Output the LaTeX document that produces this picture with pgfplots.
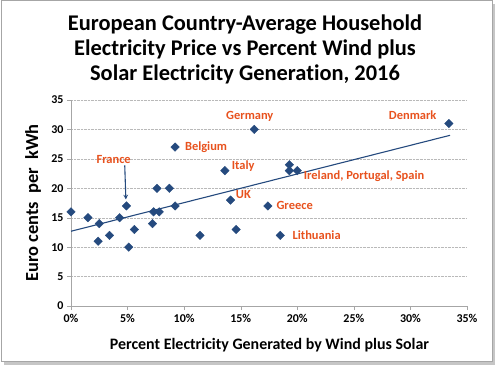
\documentclass[border=0pt]{standalone}
\usepackage{fontspec}
\setmainfont{Carlito}[RawFeature={-liga;-dlig;-calt;-clig}]
\usepackage{pgfplots}
\pgfplotsset{compat=1.18}
\definecolor{mk}{RGB}{37,74,126}
\definecolor{lbl}{RGB}{232,82,30}
\begin{document}
\begin{tikzpicture}
\useasboundingbox (0bp,0bp) rectangle (495bp,367bp);
\fill[gray!45] (4bp,2bp) rectangle (495bp,363bp);
\draw[gray!70, fill=white, line width=1bp] (1bp,5bp) rectangle (492bp,366bp);
\node[align=center, font=\bfseries\fontsize{22.5}{25}\selectfont] at (245bp,318bp)
  {European Country-Average Household\\Electricity Price vs Percent Wind plus\\Solar Electricity Generation, 2016};
\node[rotate=90, font=\bfseries\fontsize{18.5}{21}\selectfont] at (33bp,164bp) {Euro cents\ \ per\ \ kWh};
\node[font=\bfseries\fontsize{16}{18}\selectfont] at (269.5bp,22bp) {Percent Electricity Generated by Wind plus Solar};
\begin{axis}[
  at={(71bp,61bp)}, anchor=south west,
  scale only axis, width=396bp, height=206bp,
  xmin=0, xmax=35, ymin=0, ymax=35,
  xtick={0,5,...,35},
  xticklabels={0\%,5\%,10\%,15\%,20\%,25\%,30\%,35\%},
  ytick={0,5,...,35},
  axis x line*=bottom, axis y line*=left,
  axis line style={-, gray!70},
  tick align=outside,
  major tick length=4bp,
  tick style={gray!70},
  ymajorgrids,
  grid style={densely dotted, gray!55},
  ticklabel style={font=\bfseries\fontsize{12}{14}\selectfont},
  xticklabel style={yshift=-1bp},
  /pgf/number format/assume math mode=true,
  clip=false,
]
\addplot[mk, line width=1.1bp] coordinates {(0,12.7) (33.5,29.0)};
\addplot[only marks, mark=square*, mark size=3bp, mark options={mk, fill=mk, rotate=45}]
coordinates {
(0,16) (1.5,15) (2.5,14) (2.4,11) (3.4,12) (4.3,15) (4.9,17) (5.1,10) (5.6,13)
(7.2,14) (7.3,16) (7.6,20) (7.8,16) (8.7,20) (9.2,17) (9.2,27) (11.4,12)
(13.6,23) (14.1,18) (14.6,13) (16.2,30) (19.3,24) (19.3,23) (20.0,23)
(17.4,17) (18.5,12) (33.4,31)
};
\addplot[mk, line width=1.1bp, -stealth] coordinates {(4.75,23.9) (4.85,18.1)};
\begin{scope}[every node/.style={text=lbl, font=\bfseries\fontsize{12.5}{14}\selectfont}]
\node at (axis cs:15.8,32.2) {Germany};
\node at (axis cs:30.2,32.5) {Denmark};
\node at (axis cs:3.77,24.9) {France};
\node[anchor=west, inner sep=0pt] at (axis cs:10.06,26.9) {Belgium};
\node[anchor=west, inner sep=0pt] at (axis cs:14.2,23.8) {Italy};
\node[anchor=west, inner sep=0pt] at (axis cs:14.56,19.0) {UK};
\node[anchor=west, inner sep=0pt] at (axis cs:20.56,22.1) {Ireland, Portugal, Spain};
\node[anchor=west, inner sep=0pt] at (axis cs:18.15,17.1) {Greece};
\node[anchor=west, inner sep=0pt] at (axis cs:19.57,12.0) {Lithuania};
\end{scope}
\end{axis}
\end{tikzpicture}
\end{document}
